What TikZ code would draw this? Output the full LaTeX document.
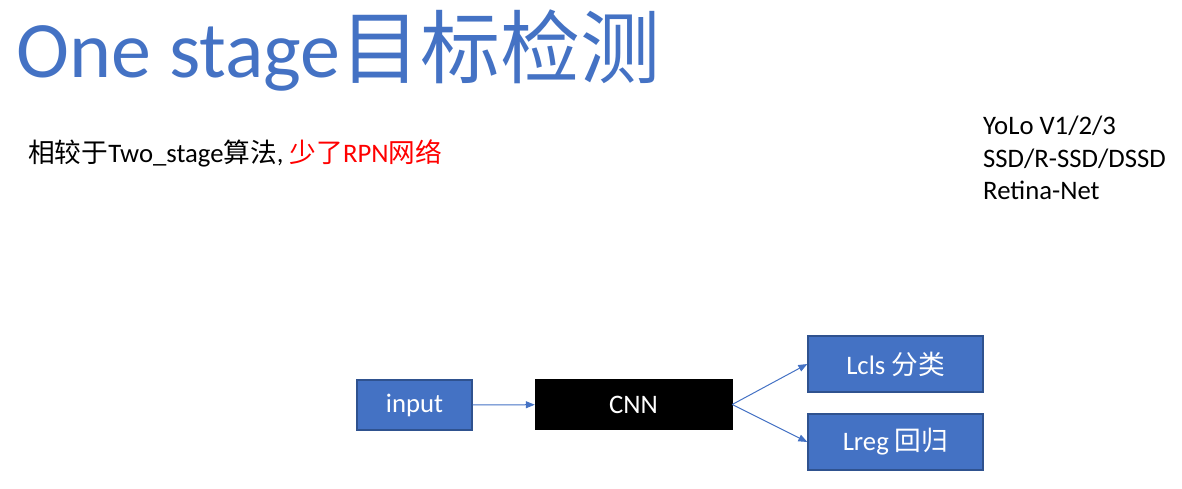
\documentclass[tikz,border=0pt]{standalone}
\usepackage{fontspec}
\setmainfont{Carlito}
\newfontfamily\cjk{Noto Sans CJK SC}
\usetikzlibrary{arrows.meta,positioning}

\definecolor{officeblue}{HTML}{4472C4}
\definecolor{officeedge}{HTML}{2F528F}

\tikzset{
	blockbox/.style={draw=officeedge,fill=officeblue,line width=1.3pt,text=white,
			inner sep=0pt,font=\fontsize{26.7}{32}\selectfont},
	cnnbox/.style={draw=black,fill=black,text=white,inner sep=0pt,
			minimum width=197pt,minimum height=50pt,font=\fontsize{26.7}{32}\selectfont},
	plaintext/.style={inner sep=0pt,font=\fontsize{26.7}{32.5}\selectfont}
}

\begin{document}
\begin{tikzpicture}[x=1pt,y=-1pt,>={Triangle[length=9pt,width=7pt]}]

	\useasboundingbox (0,0) rectangle (1182,489);

	% heading and notes
	\node[anchor=base west,inner sep=0pt,text=officeblue,font=\fontsize{80}{90}\selectfont]
		(title) at (16,78) {One stage{\cjk 目标检测}};
	\node[plaintext,anchor=base west] (note) at (28,163)
		{{\cjk 相较于}Two\_stage{\cjk 算法}, \textcolor{red}{{\cjk 少了}RPN{\cjk 网络}}};
	\node[plaintext,anchor=north west,align=left] (models) at (983,116)
		{YoLo V1/2/3\\SSD/R-SSD/DSSD\\Retina-Net};

	% pipeline
	\node[blockbox,minimum width=115pt,minimum height=50pt] (input) at (414.5,405) {input};
	\node[cnnbox] (cnn) at (633.5,404.5) {CNN};
	\node[blockbox,minimum width=175pt,minimum height=56pt] (lcls) at (895.5,364) {Lcls {\cjk 分类}};
	\node[blockbox,minimum width=175pt,minimum height=56pt] (lreg) at (895.5,442) {Lreg {\cjk 回归}};

	\draw[->,officeblue,line width=1pt] (input) -- (cnn);
	\draw[->,officeblue,line width=1pt] (cnn.east) -- (lcls.west);
	\draw[->,officeblue,line width=1pt] (cnn.east) -- (lreg.west);

\end{tikzpicture}
\end{document}
